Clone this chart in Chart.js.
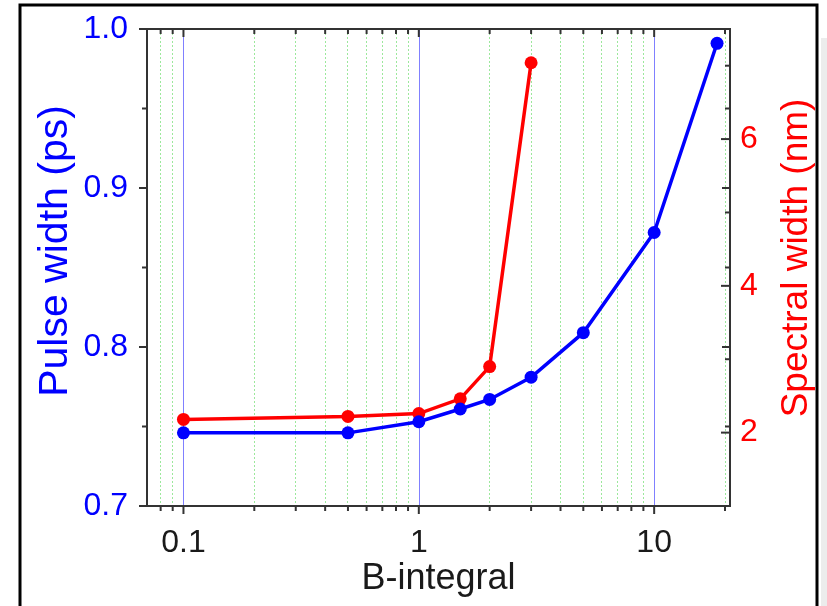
<!DOCTYPE html>
<html>
<head>
<meta charset="utf-8">
<title>Pulse width and spectral width vs B-integral</title>
<script src="https://cdn.jsdelivr.net/npm/chart.js@4.4.0/dist/chart.umd.min.js"></script>
<style>
  html, body { margin: 0; padding: 0; background: #fff; }
  #wrap { position: relative; width: 827px; height: 606px; overflow: hidden; }
  canvas { position: absolute; left: 0; top: 0; }
</style>
</head>
<body>
<div id="wrap"><canvas id="chart" width="827" height="606"></canvas></div>
<script>
// values
const bIntegral = [0.1, 0.5, 1, 1.5, 2, 3, 5, 10, 18.5];
const pulseWidth = [0.746, 0.746, 0.753, 0.761, 0.767, 0.781, 0.809, 0.872, 0.991];
const bIntegralSpec = [0.1, 0.5, 1, 1.5, 2, 3];
const spectralWidth = [2.18, 2.22, 2.26, 2.46, 2.90, 7.04];

// axes
const xMajorTicks = [0.1, 1, 10];
const xMinorTicks = [0.08, 0.09, 0.2, 0.3, 0.4, 0.5, 0.6, 0.7, 0.8, 0.9,
                     2, 3, 4, 5, 6, 7, 8, 9, 20];
const leftTicks = [0.7, 0.8, 0.9, 1.0];
const leftMinorTicks = [0.75, 0.85, 0.95];
const rightTicks = [2, 4, 6];
const rightMinorTicks = [1, 3, 5, 7];

const BLUE = '#0000ff';
const RED = '#ff0000';
const AXIS = '#333333';
const FONT = '"Liberation Sans", Arial, sans-serif';

Chart.defaults.font.family = FONT;

const toPoints = (xs, ys) => xs.map((x, i) => ({ x: x, y: ys[i] }));

// frame, major grid lines, tick marks, y titles
const decorations = {
  id: 'decorations',
  beforeDraw(chart) {
    const ctx = chart.ctx;
    ctx.save();
    ctx.fillStyle = '#ffffff';
    ctx.fillRect(0, 0, chart.width, chart.height);
    ctx.restore();
  },
  beforeDatasetsDraw(chart) {
    const { ctx, chartArea: a, scales } = chart;
    ctx.save();
    ctx.strokeStyle = '#8080ff';
    ctx.lineWidth = 1;
    xMajorTicks.forEach(v => {
      const px = Math.round(scales.x.getPixelForValue(v)) + 0.5;
      ctx.beginPath();
      ctx.moveTo(px, a.top);
      ctx.lineTo(px, a.bottom);
      ctx.stroke();
    });
    ctx.restore();
  },
  afterDraw(chart) {
    const { ctx, chartArea: a, scales } = chart;
    ctx.save();
    ctx.strokeStyle = AXIS;
    ctx.lineWidth = 2;
    ctx.strokeRect(a.left, a.top, a.right - a.left, a.bottom - a.top);

    const tick = (x1, y1, x2, y2) => {
      ctx.beginPath();
      ctx.moveTo(x1, y1);
      ctx.lineTo(x2, y2);
      ctx.stroke();
    };
    // x ticks: outward at bottom, inward at top
    xMajorTicks.concat(xMinorTicks).forEach(v => {
      const px = scales.x.getPixelForValue(v);
      const len = xMajorTicks.includes(v) ? 8 : 5;
      tick(px, a.bottom, px, a.bottom + len);
      tick(px, a.top, px, a.top + len);
    });
    // left axis ticks: outward left, mirrored inward on the right
    leftTicks.concat(leftMinorTicks).forEach(v => {
      const py = scales.y.getPixelForValue(v);
      const len = leftTicks.includes(v) ? 8 : 5;
      tick(a.left - len, py, a.left, py);
      tick(a.right - len, py, a.right, py);
    });
    // right axis ticks: inward
    rightTicks.concat(rightMinorTicks).forEach(v => {
      const py = scales.y2.getPixelForValue(v);
      const len = rightTicks.includes(v) ? 9 : 5;
      tick(a.right - len, py, a.right, py);
    });

    // axis titles, both reading bottom to top
    ctx.textAlign = 'center';
    ctx.textBaseline = 'middle';
    ctx.save();
    ctx.fillStyle = BLUE;
    ctx.font = '41px ' + FONT;
    ctx.translate(56, 251);
    ctx.rotate(-Math.PI / 2);
    ctx.fillText('Pulse width (ps)', 0, 0);
    ctx.restore();

    ctx.save();
    ctx.fillStyle = RED;
    ctx.font = '37px ' + FONT;
    ctx.translate(797, 258);
    ctx.rotate(-Math.PI / 2);
    ctx.fillText('Spectral width (nm)', 0, 0);
    ctx.restore();
    ctx.restore();

    // outer picture frame
    ctx.save();
    ctx.strokeStyle = '#000';
    ctx.lineWidth = 3;
    ctx.beginPath();
    ctx.moveTo(20, chart.height);
    ctx.lineTo(20, 5);
    ctx.lineTo(817, 5);
    ctx.lineTo(817, chart.height);
    ctx.stroke();
    ctx.fillStyle = '#ececec';
    ctx.fillRect(821, 38, 6, chart.height - 38);
    ctx.restore();
  }
};

new Chart(document.getElementById('chart').getContext('2d'), {
  type: 'line',
  data: {
    datasets: [{
      label: 'Pulse width',
      data: toPoints(bIntegral, pulseWidth),
      yAxisID: 'y',
      borderColor: BLUE,
      backgroundColor: BLUE,
      borderWidth: 3.5,
      pointRadius: 6.5,
      pointBorderWidth: 0,
      tension: 0
    }, {
      label: 'Spectral width',
      data: toPoints(bIntegralSpec, spectralWidth),
      yAxisID: 'y2',
      borderColor: RED,
      backgroundColor: RED,
      borderWidth: 3.5,
      pointRadius: 6.5,
      pointBorderWidth: 0,
      tension: 0
    }]
  },
  options: {
    responsive: false,
    animation: false,
    layout: { padding: { top: 29, left: 0, right: 0, bottom: 0 } },
    plugins: {
      legend: { display: false },
      tooltip: { enabled: false }
    },
    scales: {
      x: {
        type: 'logarithmic',
        position: 'bottom',
        min: 0.07,
        max: 21,
        afterBuildTicks: s => {
          s.ticks = xMinorTicks.concat(xMajorTicks).sort((p, q) => p - q).map(v => ({ value: v }));
        },
        afterFit: s => { s.height = 100; s.paddingLeft = 0; s.paddingRight = 0; },
        grid: {
          drawTicks: false,
          color: c => (c.tick && xMajorTicks.includes(c.tick.value)) ? 'rgba(0,0,0,0)' : '#9ce89c',
          lineWidth: 1,
          borderDash: [2, 2]
        },
        border: { display: false, dash: [2, 2] },
        ticks: {
          autoSkip: false,
          maxRotation: 0,
          padding: 18,
          color: '#1a1a1a',
          font: { size: 32 },
          callback: v => xMajorTicks.includes(v) ? String(v) : ''
        },
        title: {
          display: true,
          text: 'B-integral',
          color: '#1a1a1a',
          font: { size: 36 },
          padding: { top: 0, bottom: 5 }
        }
      },
      y: {
        position: 'left',
        min: 0.7,
        max: 1.0,
        afterBuildTicks: s => { s.ticks = leftTicks.map(v => ({ value: v })); },
        afterFit: s => { s.width = 147; s.paddingTop = 0; s.paddingBottom = 0; },
        grid: { display: false, drawTicks: false },
        border: { display: false },
        ticks: {
          color: BLUE,
          padding: 19,
          font: { size: 32 },
          callback: v => v.toFixed(1)
        }
      },
      y2: {
        position: 'right',
        min: 1,
        max: 7.5,
        afterBuildTicks: s => { s.ticks = rightTicks.map(v => ({ value: v })); },
        afterFit: s => { s.width = 97; s.paddingTop = 0; s.paddingBottom = 0; },
        grid: { display: false, drawTicks: false },
        border: { display: false },
        ticks: {
          color: RED,
          padding: 10,
          font: { size: 32 },
          callback: v => String(v)
        }
      }
    }
  },
  plugins: [decorations]
});
</script>
</body>
</html>
